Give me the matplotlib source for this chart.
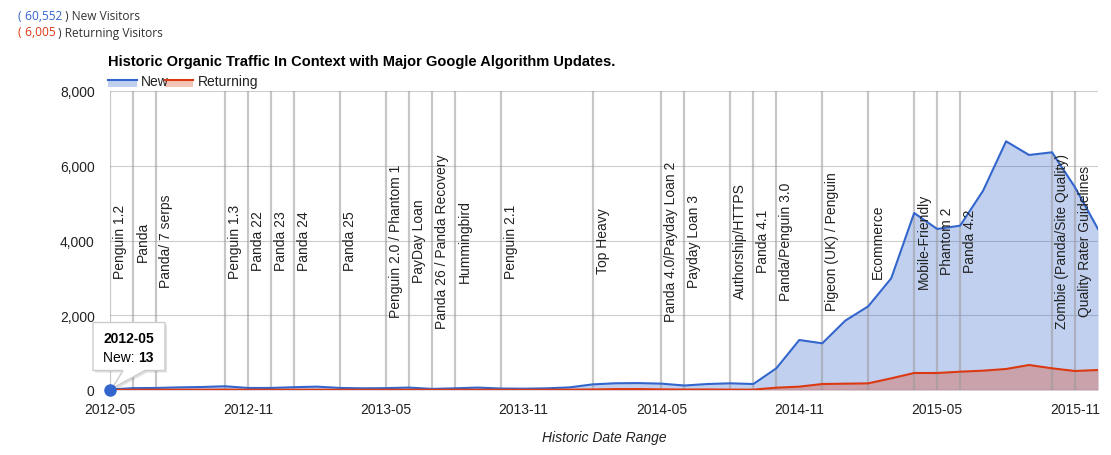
import matplotlib
matplotlib.use('Agg')
import matplotlib.pyplot as plt
import matplotlib.transforms as mtransforms
from matplotlib.patches import Polygon, Rectangle
from matplotlib.lines import Line2D
from matplotlib.ticker import FuncFormatter
import numpy as np
import pandas as pd

plt.rcParams['font.family'] = ['Liberation Sans', 'DejaVu Sans']

W, H = 1111, 456

months = [str(p) for p in pd.period_range('2012-05', '2015-12', freq='M')]

new_visitors = [13, 50, 55, 70, 80, 100, 55, 55, 75, 90, 55, 45, 50, 65, 30,
                45, 65, 40, 35, 45, 70, 150, 180, 185, 170, 120, 160, 179,
                160, 580, 1338, 1249, 1855, 2239, 2988, 4736, 4308, 4397,
                5333, 6654, 6288, 6360, 5423, 4308]
returning_visitors = [3, 6, 7, 8, 8, 10, 7, 6, 7, 8, 6, 5, 6, 7, 5, 6, 7, 6,
                      5, 6, 10, 14, 24, 25, 16, 12, 14, 10, 10, 62, 89, 160,
                      169, 178, 312, 455, 455, 490, 517, 562, 669, 580, 508,
                      535]

updates = [("2012-05", "Penguin 1.2"), ("2012-06", "Panda"),
           ("2012-07", "Panda/ 7 serps"), ("2012-10", "Penguin 1.3"),
           ("2012-11", "Panda 22"), ("2012-12", "Panda 23"),
           ("2013-01", "Panda 24"), ("2013-03", "Panda 25"),
           ("2013-05", "Penguin 2.0 / Phantom 1"), ("2013-06", "PayDay Loan"),
           ("2013-07", "Panda 26 / Panda Recovery"), ("2013-08", "Hummingbird"),
           ("2013-10", "Penguin 2.1"), ("2014-02", "Top Heavy"),
           ("2014-05", "Panda 4.0/Payday Loan 2"), ("2014-06", "Payday Loan 3"),
           ("2014-08", "Authorship/HTTPS"), ("2014-09", "Panda 4.1"),
           ("2014-10", "Panda/Penguin 3.0"), ("2014-12", "Pigeon (UK) / Penguin"),
           ("2015-02", "Ecommerce"), ("2015-04", "Mobile-Friendly"),
           ("2015-05", "Phantom 2"), ("2015-06", "Panda 4.2"),
           ("2015-10", "Zombie (Panda/Site Quality)"),
           ("2015-11", "Quality Rater Guidelines")]

blue = '#3366cc'
red = '#dc3912'
x = np.arange(len(months))

fig = plt.figure(figsize=(W / 100, H / 100), dpi=100)
ax = fig.add_axes([110 / W, 1 - 391 / H, (1098 - 110) / W, (391 - 92) / H])
ax.set_xlim(0, len(months) - 1)
ax.set_ylim(0, 8000)

for s in ax.spines.values():
    s.set_visible(False)
for g in [2000, 4000, 6000, 8000]:
    ax.axhline(g, color='#cccccc', lw=0.8, zorder=1)

ax.fill_between(x, new_visitors, color=blue, alpha=0.3, lw=0, zorder=2)
ax.fill_between(x, returning_visitors, color=red, alpha=0.3, lw=0, zorder=2.1)

for m, label in updates:
    i = months.index(m)
    ax.axvline(i, color='#999999', alpha=0.55, lw=1.6, zorder=2.5)
    ax.annotate(label, xy=(i, 4000), xytext=(3, 0), textcoords='offset pixels',
                rotation=90, ha='left', va='center', fontsize=10,
                color='#222222', zorder=4)

ax.axhline(0, color='#333333', lw=0.8, zorder=2.6)
ax.plot(x, new_visitors, color=blue, lw=1.5, zorder=3)
ax.plot(x, returning_visitors, color=red, lw=1.5, zorder=3.1)

ax.set_xticks(x[::6])
ax.set_xticklabels(months[::6])
ax.set_yticks([0, 2000, 4000, 6000, 8000])
ax.yaxis.set_major_formatter(FuncFormatter(lambda v, p: f'{int(v):,}'))
ax.tick_params(axis='both', length=0, labelsize=10, colors='#222222')
ax.tick_params(axis='x', pad=9)
ax.tick_params(axis='y', pad=11)
ax.set_xlabel('Historic Date Range', style='italic', fontsize=10,
              color='#222222', labelpad=10)

# tooltip on first point
px0, py0 = ax.transData.transform((0, new_visitors[0]))
shift = mtransforms.Affine2D().translate(px0, py0)
tip = [(-17, 19), (13, 19), (2, 1), (35, 19), (55, 19), (55, 67), (-17, 67)]
ax.add_patch(Polygon([(a + 2, b - 2) for a, b in tip], closed=True,
                     facecolor='#000000', alpha=0.12, lw=0, transform=shift,
                     zorder=5, clip_on=False))
ax.add_patch(Polygon(tip, closed=True, facecolor='white', edgecolor='#cccccc',
                     lw=1, transform=shift, zorder=5.1, clip_on=False))
ax.annotate('2012-05', xy=(0, new_visitors[0]), xytext=(-7, 52),
            textcoords='offset pixels', ha='left', va='center',
            fontsize=10, fontweight='bold', color='#000000', zorder=6,
            annotation_clip=False)
t = ax.annotate('New: ', xy=(0, new_visitors[0]), xytext=(-7, 33),
                textcoords='offset pixels', ha='left', va='center',
                fontsize=10, color='#000000', zorder=6, annotation_clip=False)
ax.annotate(str(new_visitors[0]), xy=(1, 0), xycoords=t, ha='left',
            va='bottom', fontsize=10, fontweight='bold', color='#000000',
            zorder=6, annotation_clip=False)
ax.plot([0], [new_visitors[0]], 'o', color=blue, ms=8, zorder=7, clip_on=False)

# title and legend
fig.text(108 / W, 1 - 62 / H,
         'Historic Organic Traffic In Context with Major Google Algorithm Updates.',
         fontsize=10.55, fontweight='bold', color='#000000', va='center')
fig.text(141 / W, 1 - 82 / H, 'New', fontsize=10, color='#222222', va='center')
fig.text(198 / W, 1 - 82 / H, 'Returning', fontsize=10, color='#222222',
         va='center')
for x0, x1, c in [(108, 137, blue), (165, 193, red)]:
    fig.add_artist(Rectangle((x0 / W, 1 - 88 / H), (x1 - x0) / W, 7 / H,
                             transform=fig.transFigure, color=c, alpha=0.3,
                             lw=0, zorder=3))
    fig.add_artist(Line2D([x0 / W, x1 / W], [1 - 81 / H, 1 - 81 / H],
                          transform=fig.transFigure, color=c, lw=1.5, zorder=4))

# totals
totals = [('60,552', ' ) New Visitors', blue),
          ('6,005', ' ) Returning Visitors', red)]
for row, (num, label, c) in enumerate(totals):
    t0 = fig.text(18 / W, 1 - (17 + 16 * row) / H, '(', color=c, fontsize=8.6,
                  family='Open Sans', va='center')
    t1 = fig.add_artist(plt.Annotation(' ' + num, xy=(1, 0), xycoords=t0,
                                       color=c, fontsize=8.6,
                                       family='Open Sans', va='bottom'))
    fig.add_artist(plt.Annotation(label, xy=(1, 0), xycoords=t1,
                                  color='#333333', fontsize=8.6,
                                  family='Open Sans', va='bottom'))

fig.savefig('out.png', dpi=100)
